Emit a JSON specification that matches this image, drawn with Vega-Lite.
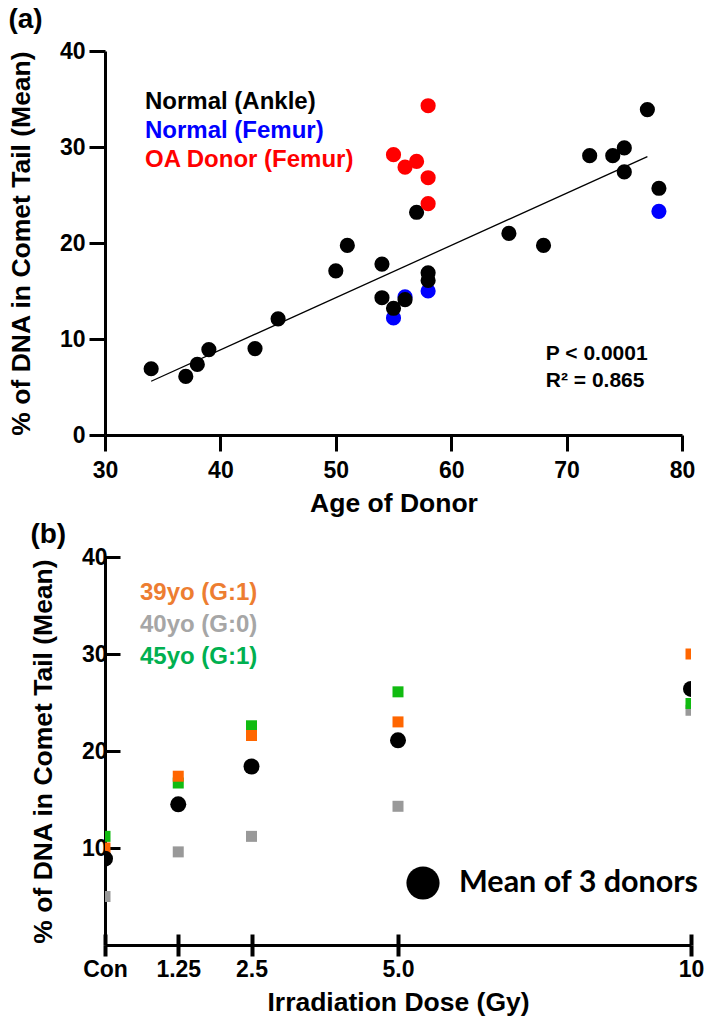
{
  "$schema": "https://vega.github.io/schema/vega-lite/v6.json",
  "background": "white",
  "padding": {"left": 8, "top": 6, "right": 0, "bottom": 4},
  "spacing": 4,
  "resolve": {
    "scale": {"color": "independent", "shape": "independent", "x": "independent", "y": "independent"},
    "legend": {"color": "independent", "shape": "independent"}
  },
  "config": {
    "font": "Liberation Sans",
    "view": {"stroke": null},
    "axis": {
      "grid": false,
      "domainColor": "black",
      "domainWidth": 3,
      "tickColor": "black",
      "tickWidth": 3,
      "labelFont": "Liberation Sans",
      "labelFontWeight": "bold",
      "labelFontSize": 23,
      "labelColor": "black",
      "titleFont": "Liberation Sans",
      "titleFontWeight": "bold",
      "titleFontSize": 26.5,
      "titleColor": "black"
    },
    "title": {"font": "Liberation Sans", "fontWeight": "bold", "fontSize": 28, "anchor": "start", "frame": "bounds", "color": "black"}
  },
  "vconcat": [
    {
      "title": {"text": "(a)", "offset": 6},
      "width": 577,
      "height": 384,
      "layer": [
        {
          "data": {
            "values": [
              {"age": 55, "dna": 12.2, "group": "Normal (Femur)"},
              {"age": 56, "dna": 14.4, "group": "Normal (Femur)"},
              {"age": 58, "dna": 15.0, "group": "Normal (Femur)"},
              {"age": 78, "dna": 23.3, "group": "Normal (Femur)"},
              {"age": 34, "dna": 6.9, "group": "Normal (Ankle)"},
              {"age": 37, "dna": 6.1, "group": "Normal (Ankle)"},
              {"age": 38, "dna": 7.35, "group": "Normal (Ankle)"},
              {"age": 39, "dna": 8.9, "group": "Normal (Ankle)"},
              {"age": 43, "dna": 9.0, "group": "Normal (Ankle)"},
              {"age": 45, "dna": 12.1, "group": "Normal (Ankle)"},
              {"age": 50, "dna": 17.1, "group": "Normal (Ankle)"},
              {"age": 51, "dna": 19.75, "group": "Normal (Ankle)"},
              {"age": 54, "dna": 17.8, "group": "Normal (Ankle)"},
              {"age": 54, "dna": 14.3, "group": "Normal (Ankle)"},
              {"age": 55, "dna": 13.2, "group": "Normal (Ankle)"},
              {"age": 56, "dna": 14.1, "group": "Normal (Ankle)"},
              {"age": 57, "dna": 23.2, "group": "Normal (Ankle)"},
              {"age": 58, "dna": 16.9, "group": "Normal (Ankle)"},
              {"age": 58, "dna": 16.1, "group": "Normal (Ankle)"},
              {"age": 65, "dna": 21.0, "group": "Normal (Ankle)"},
              {"age": 68, "dna": 19.75, "group": "Normal (Ankle)"},
              {"age": 72, "dna": 29.1, "group": "Normal (Ankle)"},
              {"age": 74, "dna": 29.1, "group": "Normal (Ankle)"},
              {"age": 75, "dna": 29.9, "group": "Normal (Ankle)"},
              {"age": 75, "dna": 27.4, "group": "Normal (Ankle)"},
              {"age": 77, "dna": 33.9, "group": "Normal (Ankle)"},
              {"age": 78, "dna": 25.7, "group": "Normal (Ankle)"},
              {"age": 55, "dna": 29.2, "group": "OA Donor (Femur)"},
              {"age": 56, "dna": 27.9, "group": "OA Donor (Femur)"},
              {"age": 57, "dna": 28.5, "group": "OA Donor (Femur)"},
              {"age": 58, "dna": 34.3, "group": "OA Donor (Femur)"},
              {"age": 58, "dna": 26.8, "group": "OA Donor (Femur)"},
              {"age": 58, "dna": 24.1, "group": "OA Donor (Femur)"}
            ]
          },
          "mark": {"type": "circle", "size": 230, "opacity": 1},
          "encoding": {
            "x": {
              "field": "age", "type": "quantitative",
              "scale": {"domain": [30, 80], "nice": false, "zero": false},
              "axis": {"title": "Age of Donor", "values": [30, 40, 50, 60, 70, 80], "tickSize": 16, "labelPadding": 8, "titlePadding": 8, "labelFlush": false}
            },
            "y": {
              "field": "dna", "type": "quantitative",
              "scale": {"domain": [0, 40], "nice": false},
              "axis": {"title": "% of DNA in Comet Tail (Mean)", "values": [0, 10, 20, 30, 40], "tickSize": 16, "labelPadding": 4, "titlePadding": 24}
            },
            "color": {
              "field": "group", "type": "nominal",
              "scale": {"domain": ["Normal (Ankle)", "Normal (Femur)", "OA Donor (Femur)"], "range": ["#000000", "#0000FF", "#FF0000"]},
              "legend": {
                "orient": "none", "legendX": 16, "legendY": 39, "title": null,
                "symbolSize": 0, "symbolOpacity": 0, "symbolStrokeWidth": 0,
                "labelOffset": 0, "labelLimit": 0, "labelFont": "Liberation Sans", "labelFontWeight": "bold", "labelFontSize": 24,
                "rowPadding": 5, "padding": 0,
                "encode": {"labels": {"update": {"fill": {"signal": "datum.value === 'Normal (Femur)' ? '#0000FF' : datum.value === 'OA Donor (Femur)' ? '#FF0000' : '#000000'"}}}}
              }
            }
          }
        },
        {
          "data": {"values": [{"age": 34, "dna": 5.6}, {"age": 77, "dna": 29.0}]},
          "mark": {"type": "line", "color": "black", "strokeWidth": 1.3},
          "encoding": {
            "x": {"field": "age", "type": "quantitative"},
            "y": {"field": "dna", "type": "quantitative"}
          }
        },
        {
          "data": {"values": [{"stat": "P < 0.0001\nR² = 0.865"}]},
          "mark": {"type": "text", "align": "left", "baseline": "middle", "fontSize": 21, "fontWeight": "bold", "font": "Liberation Sans", "lineBreak": "\n", "lineHeight": 27, "color": "black"},
          "encoding": {
            "x": {"datum": 68.2},
            "y": {"datum": 8.45},
            "text": {"field": "stat"}
          }
        }
      ]
    },
    {
      "title": {"text": "(b)", "offset": -3},
      "width": 586,
      "height": 388,
      "layer": [
        {
          "data": {
            "values": [
              {"dose": 0, "dna": 5.0, "donor": "40yo (G:0)"},
              {"dose": 0, "dna": 11.2, "donor": "45yo (G:1)"},
              {"dose": 0, "dna": 10.0, "donor": "39yo (G:1)"},
              {"dose": 1.25, "dna": 9.6, "donor": "40yo (G:0)"},
              {"dose": 1.25, "dna": 16.7, "donor": "45yo (G:1)"},
              {"dose": 1.25, "dna": 17.4, "donor": "39yo (G:1)"},
              {"dose": 2.5, "dna": 11.2, "donor": "40yo (G:0)"},
              {"dose": 2.5, "dna": 22.6, "donor": "45yo (G:1)"},
              {"dose": 2.5, "dna": 21.6, "donor": "39yo (G:1)"},
              {"dose": 5, "dna": 14.3, "donor": "40yo (G:0)"},
              {"dose": 5, "dna": 26.1, "donor": "45yo (G:1)"},
              {"dose": 5, "dna": 23.0, "donor": "39yo (G:1)"},
              {"dose": 10, "dna": 24.2, "donor": "40yo (G:0)"},
              {"dose": 10, "dna": 24.9, "donor": "45yo (G:1)"},
              {"dose": 10, "dna": 30.0, "donor": "39yo (G:1)"}
            ]
          },
          "mark": {"type": "point", "shape": "square", "filled": true, "size": 121, "opacity": 1, "clip": true},
          "encoding": {
            "x": {
              "field": "dose", "type": "quantitative",
              "scale": {"domain": [0, 10], "nice": false},
              "axis": {"orient": "bottom", "title": "Irradiation Dose (Gy)", "values": [0, 1.25, 2.5, 5, 10], "labelExpr": "datum.value === 0 ? 'Con' : datum.value === 5 ? '5.0' : '' + datum.value", "tickSize": 11, "tickWidth": 4, "labelPadding": 2, "titlePadding": 8, "labelFlush": false}
            },
            "y": {
              "field": "dna", "type": "quantitative",
              "scale": {"domain": [0, 40], "nice": false},
              "axis": {"title": "% of DNA in Comet Tail (Mean)", "values": [10, 20, 30, 40], "tickSize": -15, "labelPadding": 13, "titlePadding": 24}
            },
            "color": {
              "field": "donor", "type": "nominal",
              "scale": {"domain": ["39yo (G:1)", "40yo (G:0)", "45yo (G:1)"], "range": ["#FF6600", "#999999", "#11BB11"]},
              "legend": {
                "orient": "none", "legendX": 11, "legendY": 24, "title": null,
                "symbolSize": 0, "symbolOpacity": 0, "symbolStrokeWidth": 0,
                "labelOffset": 0, "labelLimit": 0, "labelFont": "Liberation Sans", "labelFontWeight": "bold", "labelFontSize": 24,
                "rowPadding": 8, "padding": 0,
                "encode": {"labels": {"update": {"fill": {"signal": "datum.value === '39yo (G:1)' ? '#ED7D31' : datum.value === '40yo (G:0)' ? '#A6A6A6' : '#00B050'"}}}}
              }
            }
          }
        },
        {
          "data": {
            "values": [
              {"dose": 0, "dna": 8.9},
              {"dose": 1.25, "dna": 14.5},
              {"dose": 2.5, "dna": 18.4},
              {"dose": 5, "dna": 21.1},
              {"dose": 10, "dna": 26.4}
            ]
          },
          "mark": {"type": "point", "filled": true, "size": 256, "color": "black", "opacity": 1, "clip": true},
          "encoding": {
            "x": {
              "field": "dose", "type": "quantitative",
              "axis": {"orient": "bottom", "title": null, "labels": false, "domain": false, "values": [0, 1.25, 2.5, 5, 10], "tickSize": -11, "tickWidth": 4}
            },
            "y": {"field": "dna", "type": "quantitative"},
            "shape": {
              "datum": "Mean of 3 donors",
              "scale": {"range": ["circle"]},
              "legend": {
                "orient": "none", "legendX": 301, "legendY": 309, "title": null,
                "symbolType": "circle", "symbolSize": 1100, "symbolFillColor": "black", "symbolStrokeColor": "black", "symbolStrokeWidth": 0,
                "labelFont": "Lato", "labelFontWeight": "bold", "labelFontSize": 30.5, "labelColor": "black", "labelOffset": 19, "labelLimit": 0, "padding": 0
              }
            }
          }
        }
      ],
      "resolve": {"axis": {"x": "independent"}}
    }
  ]
}
